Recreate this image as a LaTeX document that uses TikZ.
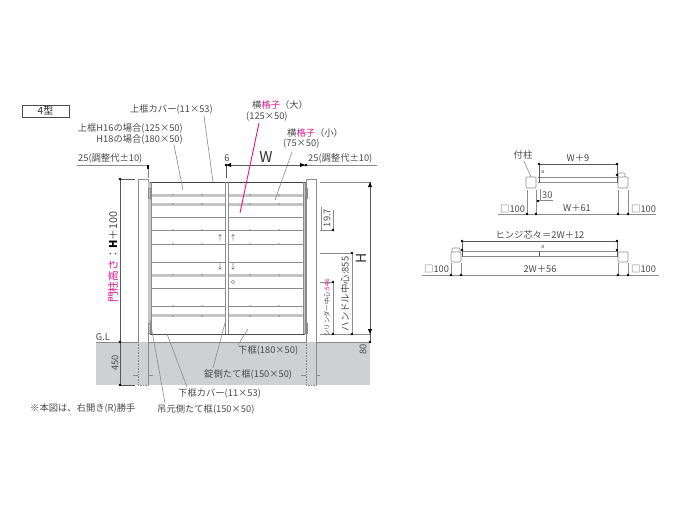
\documentclass[tikz,border=0pt]{standalone}
\usepackage{fontspec}
\setmainfont{Noto Sans CJK JP}
\usetikzlibrary{arrows.meta}
\definecolor{groundgray}{HTML}{CFD0D2}
\definecolor{linegray}{HTML}{8A8B8E}
\definecolor{railgray}{HTML}{C4C5C7}
\definecolor{textgray}{HTML}{4A4A4C}
\definecolor{pinkline}{HTML}{E6148C}
\tikzset{
  lbl/.style={inner sep=0pt,text=textgray,font=\fontsize{9.3}{10}\selectfont},
  lblv/.style={lbl,rotate=90},
  wire/.style={draw=linegray,line width=0.6pt},
  dim/.style={draw=black!65,line width=0.6pt},
  rail/.style={draw=linegray,line width=0.6pt},
  postbox/.style={draw=linegray,line width=0.6pt,fill=white,rounded corners=1pt},
}
\newcommand{\dimdot}[1]{\fill[black] (#1) circle (1.4pt);}
\begin{document}
\begin{tikzpicture}[x=1pt,y=-1pt]
\useasboundingbox (0,0) rectangle (700,524);
\fill[white] (0,0) rectangle (700,524);

% ground
\fill[groundgray] (96,342) rectangle (370,385);
\draw[wire] (96,342) -- (138,342) (148,342) -- (306,342) (316,342) -- (370,342);

% posts
\draw[wire] (148,179) -- (148,385);
\draw[wire] (138,179) -- (138,342);
\draw[wire] (138,179) -- (148,179);
\draw[wire,densely dotted] (138,342) -- (138,385) -- (148,385);
\draw[wire] (316,179) -- (316,385);
\draw[wire] (306,179) -- (306,342);
\draw[wire] (306,179) -- (316,179);
\draw[wire,densely dotted] (306,342) -- (306,385) -- (316,385);
\draw[wire] (133,375) -- (138,375) (148,375) -- (153,375);
\draw[wire] (301,375) -- (306,375) (316,375) -- (320,375);

% rail bands, left and right leaf
\foreach \ya/\yb in {194/197,203/206,274/277,314/317}{
  \fill[railgray] (151,\ya) rectangle (225,\yb);
  \fill[railgray] (228,\ya) rectangle (303,\yb);
}
\foreach \yy in {217,230,244,262,288,306}{
  \draw[rail] (151,\yy) -- (225,\yy) (228,\yy) -- (303,\yy);
}
\foreach \xx in {173,202,250,279}{
  \foreach \yy in {195,204,230,244,275,306,316}{
    \fill[linegray] (\xx,\yy) circle (0.9pt);
  }
}

% frame
\fill[railgray] (148,182) rectangle (151,334);
\fill[railgray] (303,182) rectangle (305,334);
\draw[black!75,line width=0.8pt] (150,182) -- (305,182);
\draw[black!70,line width=0.8pt] (150,334) -- (305,334);
\draw[wire] (151,182) -- (151,334) (225,182) -- (225,334) (228,182) -- (228,334) (303,182) -- (303,334) (305,182) -- (305,334);

% hinges
\foreach \yy in {188,323}{
  \draw[wire] (148,\yy) rectangle (150,\yy+10);
  \draw[wire] (305,\yy) rectangle (307,\yy+10);
}
% handle marks
\foreach \xx in {220,233}{
  \node[lbl,font=\fontsize{7}{7}\selectfont] (up\xx) at (\xx,238) {↑};
  \node[lbl,font=\fontsize{7}{7}\selectfont] (dn\xx) at (\xx,267) {↓};
}
\draw[wire] (233,282) circle (1.8pt);

% top labels
\node[draw=black!70,line width=0.6pt,minimum width=47pt,minimum height=12pt,inner sep=0pt,text=black!85,font=\fontsize{10}{10}\selectfont] (title) at (45.5,111) {4型};
\node[lbl,anchor=east] (lblCover) at (213,110) {上框カバー(11×53)};
\node[lbl,anchor=east] (lblTopA) at (183,129) {上框H16の場合(125×50)};
\node[lbl,anchor=east] (lblTopB) at (183,140) {H18の場合(180×50)};
\node[lbl,anchor=west] (lblBig) at (252,105) {横\textcolor{pinkline}{格子}（大）};
\node[lbl,anchor=west] (lblBigS) at (246,117) {(125×50)};
\node[lbl,anchor=west] (lblSmall) at (287,133) {横\textcolor{pinkline}{格子}（小）};
\node[lbl,anchor=west] (lblSmallS) at (283,144) {(75×50)};
\node[lbl,anchor=west] (lblAdjL) at (78,159) {25(調整代±10)};
\node[lbl,anchor=west] (lblAdjR) at (308,159) {25(調整代±10)};
\node[lbl] (lblSix) at (227,158) {6};
\node[lbl,text=black!80,font=\fontsize{15}{15}\selectfont] (lblW) at (266,157) {W};

% leaders
\coordinate (coverA) at (204,116);
\coordinate (coverB) at (213,182);
\draw[wire] (coverA) -- (coverB);
\coordinate (topA) at (174,145);
\coordinate (topB) at (183,190);
\draw[wire] (topA) -- (topB);
\coordinate (bigA) at (259,123);
\coordinate (bigB) at (240,213);
\draw[draw=pinkline,line width=0.9pt] (bigA) -- (bigB);
\coordinate (smallA) at (292,152);
\coordinate (smallB) at (275,200);
\draw[wire] (smallA) -- (smallB);

% top dimensions
\draw[wire] (77,165) -- (148,165) -- (148,178);
\draw[black,line width=1.2pt] (148,165) -- (148,169);
\draw[wire] (306,165) -- (377,165);
\draw[dim] (226,165) -- (306,165);
\draw[dim] (226,165) -- (226,178);
\dimdot{226,165}
\dimdot{306,165}
\fill[black] (226,165) -- (231,163) -- (231,167) -- cycle;
\fill[black] (305,165) -- (300,163) -- (300,167) -- cycle;

% left dimensions
\draw[dim] (135,179) -- (120,179) -- (120,385) -- (135,385);
\dimdot{120,179}
\dimdot{120,342}
\dimdot{120,385}
\node[lblv,anchor=west,font=\fontsize{10.8}{11}\selectfont] (lblPost) at (113,303) {\textcolor{pinkline}{門柱高さ}：\textcolor{black}{\bfseries H}＋100};
\node[lbl] (lblGL) at (103,337) {G.L};
\node[lblv] (lblFour) at (115,363) {450};

% right dimensions
\draw[wire] (320,182) -- (370,182);
\draw[wire] (320,334) -- (370,334);
\draw[dim] (370,182) -- (370,342);
\fill[black] (370,182) -- (368,187) -- (372,187) -- cycle;
\fill[black] (370,334) -- (368,329) -- (372,329) -- cycle;
\dimdot{370,342}
\node[lblv,text=black!80,font=\fontsize{14}{14}\selectfont] (lblH) at (361,258) {H};
\node[lblv] (lblEighty) at (363,349) {80};
\draw[wire] (320,230) -- (333,230) -- (333,210);
\dimdot{333,230}
\draw[wire] (321,207) -- (321,230);
\node[lblv] (lblNine) at (327,218) {19.7};
\draw[wire] (320,253) -- (352,253) -- (352,334);
\dimdot{352,253}
\dimdot{352,334}
\node[lblv,font=\fontsize{9.4}{10}\selectfont] (lblHandle) at (345,294) {ハンドル中心:855};
\draw[wire] (320,282) -- (333,282) -- (333,334);
\dimdot{333,282}
\dimdot{333,334}
\node[lblv,font=\fontsize{6.4}{7}\selectfont] (lblCyl) at (327,308) {シリンダー中心:\textcolor{pinkline}{546}};

% bottom labels
\node[lbl,anchor=west] (lblBase) at (238,351) {下框(180×50)};
\node[lbl,anchor=west] (lblLock) at (204,375) {錠側たて框(150×50)};
\node[lbl,anchor=west] (lblCoverB) at (178,393) {下框カバー(11×53)};
\node[lbl,anchor=west] (lblHinge) at (157,409) {吊元側たて框(150×50)};
\node[lbl,anchor=west] (lblNote) at (30,408) {※本図は、右開き(R)勝手};
\coordinate (baseA) at (238,345);
\coordinate (baseB) at (248,329);
\draw[wire] (baseA) -- (baseB);
\coordinate (lockA) at (213,368);
\coordinate (lockB) at (225,323);
\draw[wire] (lockA) -- (lockB);
\coordinate (coverbA) at (187,387);
\coordinate (coverbB) at (167,334);
\draw[wire] (coverbA) -- (coverbB);
\coordinate (hingeA) at (165,403);
\coordinate (hingeB) at (150,320);
\draw[wire] (hingeA) -- (hingeB);

% plan view, upper
\draw[wire] (538,177) -- (617,177) (538,182) -- (617,182);
\draw[postbox] (618,173) rectangle (625,178);
\draw[postbox] (526,177) rectangle (536,188);
\draw[postbox] (618,177) rectangle (628,188);
\draw[dim] (539,183) -- (539,164) -- (617,164) -- (617,183);
\dimdot{539,164}
\dimdot{617,164}
\dimdot{617,175}
\draw[dim] (539,177) -- (539,183);
\node[lbl] (lblPhiA) at (543,172) {\fontsize{5}{5}\selectfont ø};
\node[lbl] (lblWnine) at (578,158) {W＋9};
\node[lbl] (lblTsuke) at (523,155) {付柱};
\coordinate (tsukeA) at (524,161);
\coordinate (tsukeB) at (531,177);
\draw[wire] (tsukeA) -- (tsukeB);
\draw[wire] (498,214) -- (656,214);
\foreach \xx in {527,536,618,628}{
  \draw[wire] (\xx,190) -- (\xx,214);
  \dimdot{\xx,214}
}
\node[lbl] (lblWsix) at (577,208) {W＋61};
\node[lbl,anchor=west] (lblBoxA) at (500,209) {□100};
\node[lbl,anchor=west] (lblBoxB) at (631,209) {□100};
\draw[wire] (540,189) -- (540,201) (536,200) -- (553,200);
\dimdot{538,201}
\node[lbl,anchor=west] (lblThirty) at (542,195) {30};

% plan view, lower
\draw[wire] (462,251) -- (617,251) (462,256) -- (617,256);
\draw[postbox] (452,248) rectangle (460,253);
\draw[postbox] (451,252) rectangle (461,262);
\draw[postbox] (618,252) rectangle (628,262);
\draw[dim] (462,257) -- (462,241) -- (617,241) -- (617,257);
\dimdot{462,241}
\dimdot{617,241}
\dimdot{462,250}
\dimdot{617,250}
\draw[dim] (539,251) -- (539,256);
\node[lbl] (lblPhiB) at (543,247) {\fontsize{5}{5}\selectfont ø};
\node[lbl] (lblCore) at (540,235) {ヒンジ芯々＝2W＋12};
\draw[wire] (422,275) -- (659,275);
\foreach \xx in {451,461,618,628}{
  \draw[wire] (\xx,263) -- (\xx,275);
  \dimdot{\xx,275}
}
\node[lbl] (lblTwoW) at (540,269) {2W＋56};
\node[lbl,anchor=west] (lblBoxC) at (424,269) {□100};
\node[lbl,anchor=west] (lblBoxD) at (631,269) {□100};
\end{tikzpicture}
\end{document}
